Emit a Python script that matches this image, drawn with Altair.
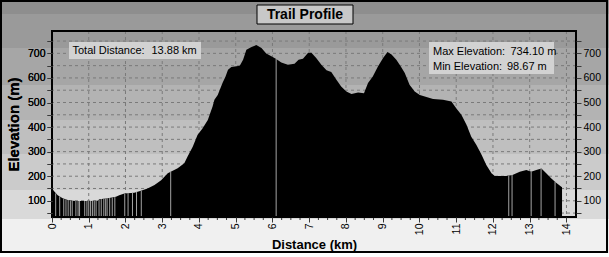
import altair as alt
import pandas as pd

# ---------------- data ----------------
DIST_KM = [0.00, 0.07, 0.155, 0.29, 0.43, 0.55, 0.70, 1.00, 1.24, 1.29, 1.52, 1.74, 1.83,
           1.97, 2.24, 2.42, 2.60, 2.79, 2.97, 3.15, 3.42, 3.60, 3.69, 3.83, 3.96, 4.10,
           4.24, 4.37, 4.42, 4.51, 4.64, 4.72, 4.79, 4.88, 5.11, 5.20, 5.29, 5.43, 5.56,
           5.70, 5.83, 5.97, 6.10, 6.24, 6.42, 6.60, 6.71, 6.83, 6.97, 7.06, 7.19, 7.33,
           7.47, 7.60, 7.74, 7.87, 8.01, 8.15, 8.33, 8.49, 8.60, 8.73, 8.87, 9.01, 9.13,
           9.24, 9.37, 9.48, 9.60, 9.73, 9.87, 10.01, 10.19, 10.37, 10.64, 10.87, 11.00,
           11.14, 11.28, 11.41, 11.55, 11.69, 11.82, 11.96, 12.05, 12.36, 12.53, 12.73,
           12.91, 13.04, 13.18, 13.32, 13.45, 13.59, 13.72, 13.86, 13.88]
ELEV_M = [150, 137, 123, 110, 103, 100, 99, 99, 100, 106, 110, 116, 123,
          130, 133, 141, 150, 164, 184, 212, 232, 253, 280, 320, 368, 395,
          429, 484, 511, 531, 579, 605, 633, 644, 650, 674, 715, 726, 734,
          722, 699, 688, 677, 663, 654, 658, 674, 678, 702, 702, 681, 654,
          631, 624, 593, 565, 545, 535, 541, 538, 579, 606, 647, 681, 706,
          695, 674, 650, 620, 572, 545, 531, 522, 514, 511, 504, 477,
          450, 409, 361, 327, 287, 246, 212, 201, 201, 205, 218,
          225, 218, 225, 231, 212, 191, 173, 157, 155]

WAYPOINT_KM = [0.10, 0.21, 0.32, 0.38, 0.44, 0.50, 0.55, 0.65, 0.71, 0.75, 0.89, 0.95,
               1.00, 1.05, 1.10, 1.15, 1.20, 1.28, 1.34, 1.41, 1.46, 1.50, 1.57, 1.64,
               1.71, 1.98, 2.07, 2.19, 2.30, 2.43, 3.23, 6.10, 12.43, 12.52, 13.04,
               13.31, 13.69]
WAYPOINT_ELEV = [130, 118, 108, 105, 103, 101, 100, 99, 99, 99, 99, 99,
                 99, 99, 99, 99, 99, 104, 107, 108, 109, 110, 111, 113,
                 115, 130, 131, 133, 137, 141, 218, 677, 203, 205, 218,
                 231, 178]

X_TICKS = list(range(0, 15))
X_MINOR = [q / 4 for q in range(0, 57) if q % 4]
Y_TICKS = list(range(50, 800, 50))

TITLE = "Trail Profile"
X_TITLE = "Distance (km)"
Y_TITLE = "Elevation (m)"
INFO_LABELS = ["Total Distance:", "Max Elevation:", "Min Elevation:"]
INFO_VALUES = ["13.88 km", "734.10 m", "98.67 m"]

# ---------------- style ----------------
W, H = 524, 186
PAD = {"left": 52, "top": 31, "right": 33, "bottom": 40}
BAND_EDGES = [-31, -17, 17, 54, 89, 123, 159, 188, 222]
BAND_COLORS = ["#8e8e8e", "#9a9a9a", "#a6a6a6", "#b3b3b3", "#bfbfbf",
               "#cbcbcb", "#d9d9d9", "#f0f0f0"]
FONT = "Liberation Sans, Arial, sans-serif"

xs = alt.Scale(domain=[0, 14.26], nice=False, zero=False)
ys = alt.Scale(domain=[34, 791], nice=False, zero=False)

profile = pd.DataFrame({"km": DIST_KM, "elev": ELEV_M})
waypoints = pd.DataFrame({"km": WAYPOINT_KM, "elev": WAYPOINT_ELEV})
bands = pd.DataFrame({"y0": BAND_EDGES[:-1], "y1": BAND_EDGES[1:], "c": BAND_COLORS})
one = alt.Data(values=[{}])

ylab = "datum.value % 100 == 0 ? datum.label : ''"
common_axis = dict(domain=False, grid=False, tickColor="#3a3a3a", labelColor="black",
                   labelFont=FONT, labelFontSize=10.5, labelOverlap=False, zindex=1)

left_axis = alt.Axis(orient="left", values=Y_TICKS, labelExpr=ylab, tickSize=5,
                     labelPadding=2, title=Y_TITLE, titleFont=FONT,
                     titleFontSize=15, titleFontWeight="bold", titleX=-39,
                     titleY=H / 2, titleAngle=270, titleAlign="center",
                     titleBaseline="middle", titleColor="black", **common_axis)
right_axis = alt.Axis(orient="right", values=Y_TICKS, labelExpr=ylab, tickSize=5,
                      labelPadding=2, title=None, **common_axis)
bottom_axis = alt.Axis(orient="bottom", values=X_TICKS, labelAngle=270, tickSize=5,
                       labelPadding=1, labelFlush=False, format="d", title=X_TITLE,
                       titleFont=FONT, titleFontSize=13, titleFontWeight="bold",
                       titleX=262, titleY=27, titleAlign="center",
                       titleBaseline="middle", titleColor="black", **common_axis)

band_layer = alt.Chart(bands).mark_rect(clip=False).encode(
    x=alt.value(-52), x2=alt.value(W + 33),
    y=alt.Y("y0:Q", scale=None), y2="y1:Q",
    fill=alt.Color("c:N", scale=None))

hgrid = alt.Chart(pd.DataFrame({"v": Y_TICKS})).mark_rule(
    color="#7a7a7a", strokeDash=[3, 3], strokeWidth=1).encode(
    y=alt.Y("v:Q", scale=ys, axis=right_axis))

vgrid = alt.Chart(pd.DataFrame({"v": X_TICKS[1:]})).mark_rule(
    color="#7a7a7a", strokeDash=[3, 3], strokeWidth=1).encode(
    x=alt.X("v:Q", scale=xs, axis=bottom_axis))

area = alt.Chart(profile).mark_area(color="black", clip=True, interpolate="linear").encode(
    x=alt.X("km:Q", scale=xs, axis=bottom_axis),
    y=alt.Y("elev:Q", scale=ys, axis=left_axis))

wp = alt.Chart(waypoints).mark_rule(color="#a4a4a4", strokeWidth=1).encode(
    x=alt.X("km:Q", scale=xs, axis=bottom_axis),
    y=alt.Y("elev:Q", scale=ys, axis=left_axis),
    y2=alt.value(H))

minor = alt.Chart(pd.DataFrame({"v": X_MINOR})).mark_rule(
    color="#3a3a3a", clip=False).encode(
    x=alt.X("v:Q", scale=xs, axis=bottom_axis), y=alt.value(H), y2=alt.value(H + 3))

frame = alt.Chart(one).mark_rect(filled=False, stroke="black", strokeWidth=2).encode(
    x=alt.value(0), x2=alt.value(W), y=alt.value(0), y2=alt.value(H))

outer = alt.Chart(one).mark_rect(filled=False, stroke="black", strokeWidth=2,
                                 clip=False).encode(
    x=alt.value(-51), x2=alt.value(W + 31), y=alt.value(-30), y2=alt.value(H + 35))

title_box = alt.Chart(one).mark_rect(fill="#c8c8c8", stroke="black", strokeWidth=1,
                                     clip=False).encode(
    x=alt.value(205), x2=alt.value(301), y=alt.value(-26), y2=alt.value(-7))
title_txt = alt.Chart(one).mark_text(font=FONT, fontSize=14, fontWeight="bold",
                                     align="center", baseline="middle",
                                     color="black").encode(
    x=alt.value(253), y=alt.value(-16), text=alt.value(TITLE))

box1 = alt.Chart(one).mark_rect(fill="#d2d2d2").encode(
    x=alt.value(17), x2=alt.value(149), y=alt.value(11), y2=alt.value(28))
box2 = alt.Chart(one).mark_rect(fill="#d2d2d2").encode(
    x=alt.value(377), x2=alt.value(502), y=alt.value(11), y2=alt.value(43))


def txt(s, x, y):
    return alt.Chart(one).mark_text(font=FONT, fontSize=11, align="left",
                                    baseline="middle", color="black").encode(
        x=alt.value(x), y=alt.value(y), text=alt.value(s))


texts = [
    txt(INFO_LABELS[0], 20.5, 20), txt(INFO_VALUES[0], 99.5, 20),
    txt(INFO_LABELS[1], 381, 20.7), txt(INFO_VALUES[1], 458.5, 20.7),
    txt(INFO_LABELS[2], 381, 36.2), txt(INFO_VALUES[2], 455, 36.2),
]

chart = alt.layer(
    band_layer, hgrid, vgrid, area, wp, minor, frame, outer,
    title_box, title_txt, box1, box2, *texts
).resolve_axis(y="independent").properties(
    width=W, height=H, padding=PAD, autosize=alt.AutoSizeParams(type="none"),
    background="white"
).configure_view(stroke=None)

chart.save("out.html", embed_options={"renderer": "svg", "actions": False})
